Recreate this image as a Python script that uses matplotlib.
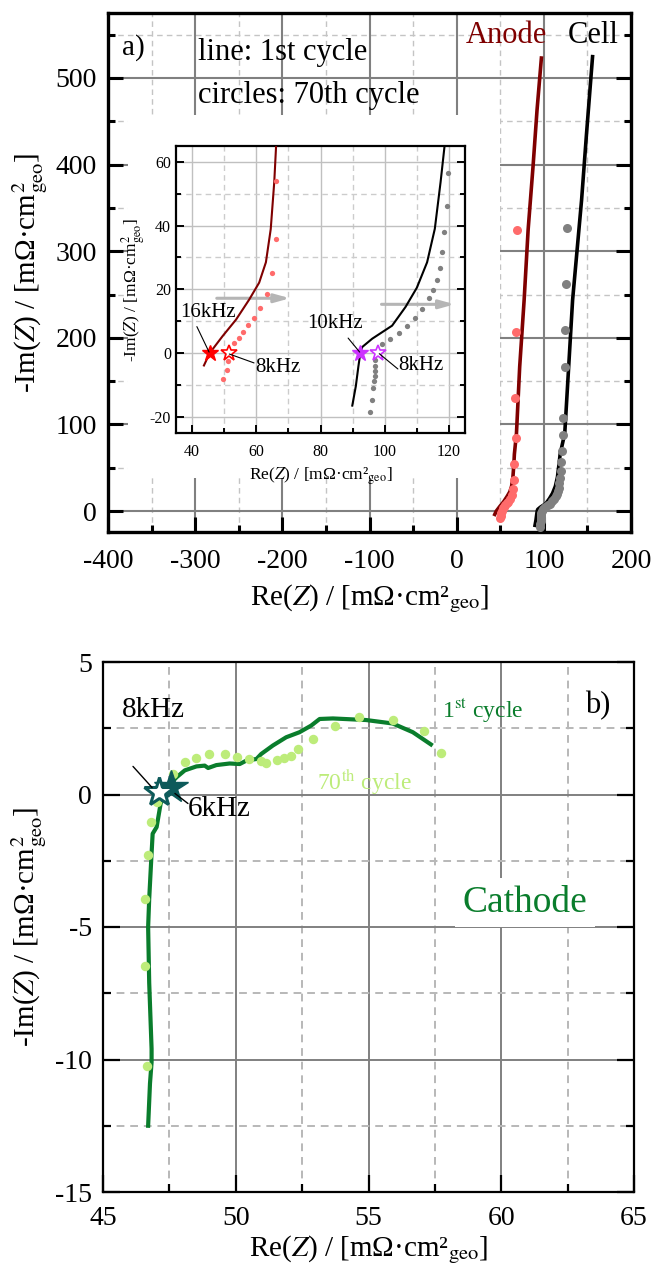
import matplotlib
matplotlib.use('Agg')
import matplotlib.pyplot as plt
from matplotlib.patches import Rectangle
from matplotlib.ticker import MultipleLocator

plt.rcParams['font.family'] = ['Liberation Serif', 'DejaVu Serif']
plt.rcParams['mathtext.fontset'] = 'stix'
plt.rcParams['axes.unicode_minus'] = False

# ---- panel a) anode / cell, 1st cycle (lines) ----
anode_re_1st = [43.7, 45.5, 49.5, 53.7, 57.8, 60.9, 63.0, 64.5, 65.6, 66.2, 68.6, 72.3, 77.4, 82.0, 87.6, 92.2, 97.2]
anode_im_1st = [-3.9, 0.0, 5.3, 10.5, 16.8, 22.1, 28.5, 38.9, 53.7, 65.6, 89.7, 166.6, 243.6, 325.0, 397.6, 463.0, 523.0]
cell_re_1st = [89.9, 91.0, 91.8, 92.4, 93.0, 96.1, 102.3, 106.5, 110.0, 113.2, 115.6, 117.4, 118.7, 124.0, 128.5, 133.0, 143.3, 149.0, 155.9]
cell_im_1st = [-16.5, -10.4, -4.2, 0.0, 1.9, 4.5, 8.6, 14.5, 20.5, 28.5, 39.0, 53.7, 65.6, 89.7, 166.6, 243.6, 359.0, 436.0, 524.6]

# ---- panel a) anode / cell, 70th cycle (circles) ----
anode_re_70 = [69.3, 67.8, 67.4, 67.6, 66.2, 66.0, 65.0, 63.3, 61.3, 59.2, 57.5, 55.9, 54.5, 53.0, 51.5, 51.2, 50.8, 49.5]
anode_im_70 = [325.0, 207.0, 130.6, 84.0, 53.9, 35.7, 25.0, 18.5, 14.0, 11.0, 8.8, 6.7, 4.6, 3.0, 0.0, -2.6, -5.2, -8.1]
cell_re_70 = [126.8, 125.3, 124.1, 124.1, 122.2, 121.5, 120.7, 119.8, 119.3, 118.6, 117.8, 117.1, 116.4, 114.9, 113.7,
              111.6, 109.5, 106.9, 104.3, 101.7, 99.1, 97.8, 97.1, 97.0, 97.0, 96.9, 96.7, 96.4, 96.1, 95.4]
cell_im_70 = [327.0, 261.8, 209.0, 166.7, 107.7, 87.5, 69.3, 56.6, 46.2, 38.1, 31.8, 26.8, 22.9, 19.9, 17.3,
              13.8, 11.1, 8.5, 6.4, 4.3, 2.7, 0.0, -2.1, -4.2, -5.7, -7.3, -8.9, -11.0, -14.6, -18.6]

# frequency markers (inset)
anode_star_re = [45.5, 51.5]   # 16kHz (1st), 8kHz (70th)
cell_star_re = [92.4, 97.8]    # 10kHz (1st), 8kHz (70th)

# ---- panel b) cathode ----
cath_re_1st = [46.70, 46.77, 46.83, 46.83, 46.74, 46.70, 46.74, 46.82, 46.87, 47.02, 47.17, 47.35, 47.77, 48.08,
               48.52, 48.83, 48.96, 49.27, 49.77, 50.15, 50.40, 50.78, 50.96, 51.40, 51.90, 52.40, 52.84, 53.16,
               53.66, 54.91, 55.91, 56.67, 57.35]
cath_im_1st = [-12.5, -10.9, -10.1, -9.6, -7.1, -5.0, -3.94, -2.4, -1.48, -1.23, -0.35, 0.2, 0.65, 0.91,
               1.06, 1.09, 1.0, 1.11, 1.17, 1.15, 1.28, 1.34, 1.53, 1.85, 2.16, 2.35, 2.6, 2.85,
               2.87, 2.81, 2.68, 2.35, 1.89]
cath_re_70 = [46.67, 46.60, 46.60, 46.68, 46.79, 47.05, 47.62, 48.08, 48.52, 49.0, 49.59, 50.05, 50.49, 50.94,
              51.15, 51.56, 51.80, 52.07, 52.34, 52.90, 53.72, 54.66, 55.91, 57.10, 57.73]
cath_im_70 = [-10.25, -6.48, -3.94, -2.29, -1.04, -0.3, 0.78, 1.21, 1.38, 1.51, 1.51, 1.43, 1.34, 1.28,
              1.18, 1.30, 1.38, 1.47, 1.72, 2.09, 2.60, 2.94, 2.81, 2.38, 1.57]
cath_star_re = [47.55, 47.1]   # 6kHz (1st), 8kHz (70th)
cath_star_im = [0.28, 0.1]

ylab = '-Im($Z$) / [mΩ·cm$^{2}_{\\rm geo}$]'
xlab = 'Re($Z$) / [mΩ·cm²$_{\\rm geo}$]'

fig = plt.figure(figsize=(6.54, 12.75), dpi=100)
W, H = 654, 1275


def style(ax, lw_spine, maj_len, min_len, tw, lsize, gmaj, gmin, glw, gminlw=1.0):
    for s in ax.spines.values():
        s.set_linewidth(lw_spine)
    ax.tick_params(which='both', direction='in', top=False, right=True, labelsize=lsize, width=tw)
    ax.tick_params(which='major', length=maj_len)
    ax.tick_params(which='minor', length=min_len)
    ax.grid(which='major', color=gmaj, lw=glw, ls='-')
    ax.grid(which='minor', color=gmin, lw=gminlw, ls=(0, (4, 3)))


def leader(ax, start, end, lw=0.8):
    ax.annotate('', xy=end, xytext=start,
                arrowprops=dict(arrowstyle='-', color='black', lw=lw, shrinkA=0, shrinkB=0), zorder=8)


# ================= panel a =================
ax1 = fig.add_axes([108 / W, 1 - 532 / H, 523 / W, 519 / H])
ax1.set_xlim(-400, 200)
ax1.set_ylim(-24.2, 575)
ax1.xaxis.set_major_locator(MultipleLocator(100))
ax1.xaxis.set_minor_locator(MultipleLocator(50))
ax1.yaxis.set_major_locator(MultipleLocator(100))
ax1.yaxis.set_minor_locator(MultipleLocator(50))
style(ax1, 2.4, 11, 5, 2.2, 20, '#808080', '#c4c4c4', 1.5)
ax1.tick_params(axis='x', pad=12)
ax1.tick_params(axis='y', pad=8)

ax1.plot(anode_re_1st, anode_im_1st, color='#7f0000', lw=2.6, zorder=3)
ax1.plot(cell_re_1st, cell_im_1st, color='black', lw=2.6, zorder=3)
ax1.plot(anode_re_70, anode_im_70, 'o', color='#ff6b6b', ms=6.5, mec='none', zorder=4)
ax1.plot(cell_re_70, cell_im_70, 'o', color='#808080', ms=6.5, mec='none', zorder=4)

ax1.set_xlabel(xlab, fontsize=21, labelpad=6)
ax1.set_ylabel(ylab, fontsize=21, labelpad=4)

ax1.text(0.027, 0.933, 'a)', transform=ax1.transAxes, fontsize=21, va='center')
ax1.text(0.172, 0.923, 'line: 1st cycle', transform=ax1.transAxes, fontsize=22, va='center')
ax1.text(0.172, 0.842, 'circles: 70th cycle', transform=ax1.transAxes, fontsize=22, va='center')
ax1.text(0.761, 0.957, 'Anode', transform=ax1.transAxes, fontsize=22, va='center', ha='center', color='#7f0000')
ax1.text(0.927, 0.957, 'Cell', transform=ax1.transAxes, fontsize=22, va='center', ha='center', color='black')

# white backing behind the inset
ax1.add_patch(Rectangle((128 / W, 1 - 478 / H), 372 / W, 363 / H, transform=fig.transFigure,
                        facecolor='white', edgecolor='none', zorder=1.8, clip_on=False))

# ================= inset =================
axi = fig.add_axes([176 / W, 1 - 433 / H, 289 / W, 287 / H])
axi.set_xlim(35, 125)
axi.set_ylim(-25.1, 65)
axi.xaxis.set_major_locator(MultipleLocator(20))
axi.xaxis.set_minor_locator(MultipleLocator(10))
axi.yaxis.set_major_locator(MultipleLocator(20))
axi.yaxis.set_minor_locator(MultipleLocator(10))
style(axi, 1.6, 6, 3.5, 1.4, 11.5, '#c0c0c0', '#cccccc', 1.0)
axi.tick_params(axis='x', pad=8)

axi.plot(anode_re_1st, anode_im_1st, color='#7f0000', lw=1.5, zorder=3)
axi.plot(cell_re_1st, cell_im_1st, color='black', lw=1.5, zorder=3)
axi.plot(anode_re_70, anode_im_70, 'o', color='#ff6b6b', ms=3.8, mec='none', zorder=4)
axi.plot(cell_re_70, cell_im_70, 'o', color='#808080', ms=3.8, mec='none', zorder=4)

axi.plot(anode_star_re[0], 0, '*', ms=12, color='#ff0000', mec='#ff0000', zorder=6)
axi.plot(anode_star_re[1], 0, '*', ms=12, mfc='white', mec='#ff0000', mew=1.2, zorder=6)
axi.plot(cell_star_re[0], 0, '*', ms=12, color='#cc33ff', mec='#cc33ff', zorder=6)
axi.plot(cell_star_re[1], 0, '*', ms=12, mfc='white', mec='#cc33ff', mew=1.2, zorder=6)

axi.text(36.3, 12.6, '16kHz', fontsize=15, va='center', ha='left', zorder=7)
leader(axi, (41.5, 8.3), (45.3, 0.3))
axi.text(59.6, -4.4, '8kHz', fontsize=15, va='center', ha='left', zorder=7)
leader(axi, (51.6, -0.3), (59.3, -3.1))
axi.text(75.8, 9.4, '10kHz', fontsize=15, va='center', ha='left', zorder=7)
leader(axi, (88.6, 4.7), (92.2, 0.3))
axi.text(104.1, -3.8, '8kHz', fontsize=15, va='center', ha='left', zorder=7)
leader(axi, (98.3, -0.2), (104.1, -5.0))

garrow = dict(arrowstyle='-|>,head_length=0.9,head_width=0.25', color='#b5b5b5', lw=2.2,
              shrinkA=0, shrinkB=0)
axi.annotate('', xy=(70.5, 17.2), xytext=(47.7, 17.2), arrowprops=garrow, zorder=2.5)
axi.annotate('', xy=(121.8, 15.3), xytext=(99.0, 15.3), arrowprops=garrow, zorder=2.5)

axi.set_xlabel(xlab, fontsize=12.5, labelpad=4)
axi.set_ylabel(ylab, fontsize=12.5, labelpad=2)

# ================= panel b =================
ax2 = fig.add_axes([103 / W, 1 - 1192 / H, 531 / W, 530 / H])
ax2.set_xlim(45, 65)
ax2.set_ylim(-15, 5)
ax2.xaxis.set_major_locator(MultipleLocator(5))
ax2.xaxis.set_minor_locator(MultipleLocator(2.5))
ax2.yaxis.set_major_locator(MultipleLocator(5))
ax2.yaxis.set_minor_locator(MultipleLocator(2.5))
style(ax2, 1.6, 12, 5.5, 1.6, 20, '#808080', '#b8b8b8', 1.4, 1.4)
ax2.tick_params(axis='x', pad=10)
ax2.tick_params(axis='y', pad=8)

ax2.plot(cath_re_1st, cath_im_1st, color='#0a7d2c', lw=3.0, zorder=3)
ax2.plot(cath_re_70, cath_im_70, 'o', color='#bdec7a', ms=6.8, mec='none', zorder=4)
ax2.plot(cath_star_re[0], cath_star_im[0], '*', ms=25, color='#0d5a5a', mec='#0d5a5a', zorder=6)
ax2.plot(cath_star_re[1], cath_star_im[1], '*', ms=22, mfc='white', mec='#0d5a5a', mew=2.2, zorder=7)

ax2.text(45.72, 3.17, '8kHz', fontsize=21, va='center', ha='left')
leader(ax2, (46.13, 1.06), (46.85, 0.26), lw=1.0)
ax2.text(48.2, -0.53, '6kHz', fontsize=21, va='center', ha='left')
leader(ax2, (47.71, 0.04), (48.2, -0.34), lw=1.0)
ax2.text(57.77, 3.17, '1$^{\\rm st}$ cycle', fontsize=17, va='center', ha='left', color='#0a7d2c')
ax2.text(53.06, 0.46, '70$^{\\rm th}$ cycle', fontsize=17, va='center', ha='left', color='#bdec7a')
ax2.text(63.15, 3.36, 'b)', fontsize=22, va='center', ha='left')
ax2.text(60.9, -4.08, 'Cathode', fontsize=27, va='center', ha='center', color='#0a7d2c', zorder=5,
         bbox=dict(boxstyle='square,pad=0.2', facecolor='white', edgecolor='none'))

ax2.set_xlabel(xlab, fontsize=21, labelpad=2)
ax2.set_ylabel(ylab, fontsize=21, labelpad=4)

fig.savefig('out.png', dpi=100)
